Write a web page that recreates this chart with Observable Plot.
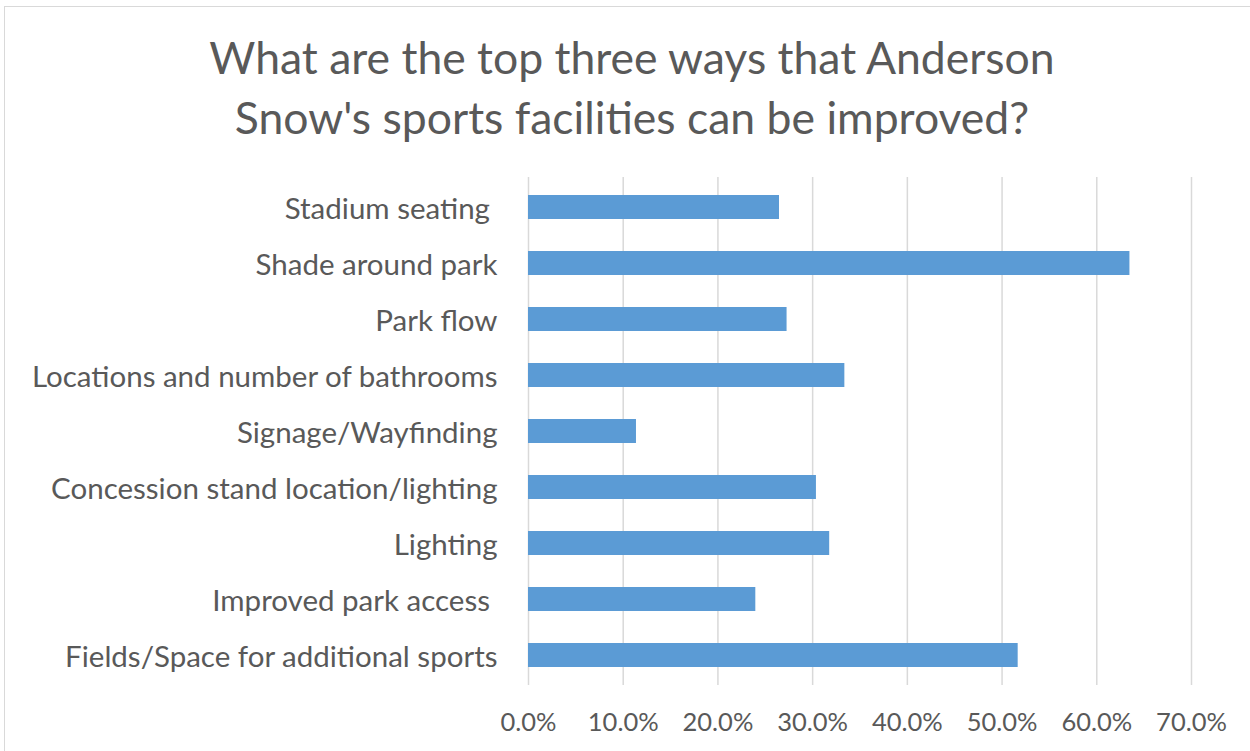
<!DOCTYPE html>
<html>
<head>
<meta charset="utf-8">
<script src="https://cdn.jsdelivr.net/npm/d3@7"></script>
<script src="https://cdn.jsdelivr.net/npm/@observablehq/plot@0.6"></script>
<style>
  html, body { margin: 0; padding: 0; background: #fff; overflow: hidden; }
  #wrap { position: relative; width: 1250px; height: 751px; }
  #frame { position: absolute; left: 4px; top: 6px; width: 1260px; height: 760px; border: 1px solid #d9d9d9; box-sizing: border-box; }
  #title { position: absolute; left: 0; top: 27px; width: 1264px; text-align: center; font-family: Lato, sans-serif; font-size: 44.5px; line-height: 60px; color: #595959; }
  #chart { position: absolute; left: 0; top: 160px; }
  #chart text { font-family: Lato, sans-serif; }
</style>
</head>
<body>
<div id="wrap">
  <div id="frame"></div>
  <div id="title">What are the top three ways that Anderson<br>Snow's sports facilities can be improved?</div>
  <div id="chart"></div>
</div>
<script>
const categories = [
  "Stadium seating\u00a0",
  "Shade around park",
  "Park flow",
  "Locations and number of bathrooms",
  "Signage/Wayfinding",
  "Concession stand location/lighting",
  "Lighting",
  "Improved park access\u00a0",
  "Fields/Space for additional sports"
];
const values = [0.265, 0.635, 0.273, 0.334, 0.114, 0.304, 0.318, 0.240, 0.517];
const tickValues = [0, 0.1, 0.2, 0.3, 0.4, 0.5, 0.6, 0.7];

const data = categories.map((c, i) => ({category: c, value: values[i]}));

const chart = Plot.plot({
  width: 1250,
  height: 591,
  marginLeft: 528,
  marginRight: 59,
  marginTop: 17,
  marginBottom: 66,
  style: {fontFamily: "Lato, sans-serif", fontSize: "25px", color: "#595959", background: "transparent"},
  x: {domain: [0, 0.7], ticks: tickValues, tickFormat: d3.format(".1%"), label: null},
  y: {domain: categories, padding: 0, label: null},
  marks: [
    Plot.gridX(tickValues, {stroke: "#d9d9d9", strokeOpacity: 1, strokeWidth: 1.5}),
    Plot.barX(data, {x: "value", y: "category", fill: "#5b9bd5", insetTop: 16, insetBottom: 16}),
    Plot.axisX({ticks: tickValues, tickFormat: d3.format(".1%"), tickSize: 0, tickPadding: 27, fontSize: 25.5, label: null}),
    Plot.axisY({tickSize: 0, tickPadding: 31, fontSize: 29.5, dy: 2, label: null})
  ]
});
document.getElementById("chart").appendChild(chart);
</script>
</body>
</html>
